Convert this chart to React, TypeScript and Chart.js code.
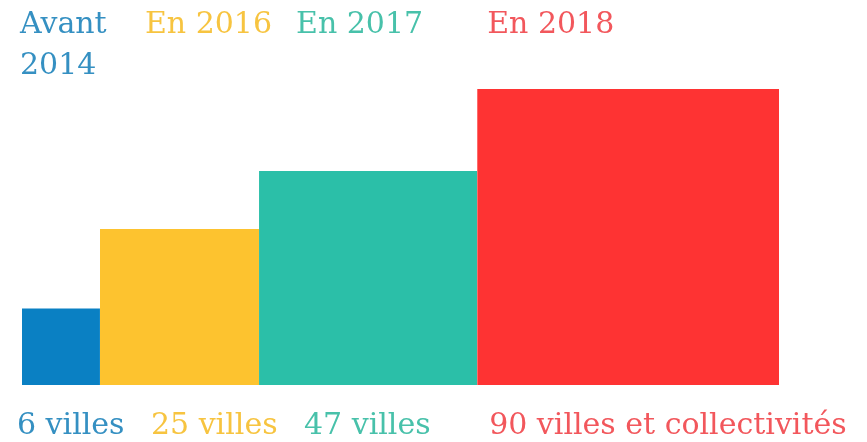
import React, { useEffect, useRef } from "react";
import { Chart, registerables } from "chart.js";

Chart.register(...registerables);

const categories: (string | string[])[] = [["Avant", "2014"], "En 2016", "En 2017", "En 2018"];
const cityCounts: number[] = [6, 25, 47, 90];
const countLabels: string[] = ["6 villes", "25 villes", "47 villes", "90 villes et collectivités"];
const barColors: string[] = ["#0a80c3", "#fdc32f", "#2bbfa8", "#fe3333"];
const textColors: string[] = ["#3590c2", "#f7c440", "#48c1aa", "#f2575c"];

// Each bar is a square whose area is proportional to the number of cities.
const sides = cityCounts.map((v) => Math.sqrt(v));
const starts: number[] = [];
sides.reduce((acc, s) => {
  starts.push(acc);
  return acc + s;
}, 0);
const totalWidth = sides.reduce((a, b) => a + b, 0);

const topOffsets = [-2, 45, 37, 10];
const bottomOffsets = [-5, 51, 45, 12];

export default function App() {
  const ref = useRef<HTMLCanvasElement | null>(null);

  useEffect(() => {
    if (!ref.current) return;
    const labelPlugin = {
      id: "squareLabels",
      afterDraw(chart: any) {
        const { ctx, scales } = chart;
        const xs = scales.x;
        ctx.save();
        ctx.font = '30px "DejaVu Serif"';
        ctx.textBaseline = "alphabetic";
        ctx.textAlign = "left";
        categories.forEach((cat, i) => {
          const left = xs.getPixelForValue(starts[i]);
          ctx.fillStyle = textColors[i];
          const lines = Array.isArray(cat) ? cat : [cat];
          lines.forEach((ln, j) => {
            ctx.fillText(ln, left + topOffsets[i], 33 + j * 41);
          });
          ctx.fillText(countLabels[i], left + bottomOffsets[i], 434);
        });
        ctx.restore();
      },
    };

    const chart = new Chart(ref.current, {
      type: "line",
      data: {
        datasets: cityCounts.map((_, i) => ({
          label: Array.isArray(categories[i]) ? (categories[i] as string[]).join(" ") : (categories[i] as string),
          data: [
            { x: starts[i], y: sides[i] },
            { x: starts[i] + sides[i], y: sides[i] },
          ],
          fill: "origin",
          backgroundColor: barColors[i],
          borderColor: barColors[i],
          borderWidth: 0,
          pointRadius: 0,
          tension: 0,
        })),
      },
      options: {
        responsive: false,
        animation: false,
        layout: { padding: { left: 22, right: 88, top: 89, bottom: 57 } },
        plugins: { legend: { display: false }, tooltip: { enabled: false } },
        scales: {
          x: { type: "linear", min: 0, max: totalWidth, display: false },
          y: { type: "linear", min: 0, max: Math.max(...sides), display: false },
        },
      },
      plugins: [labelPlugin],
    });
    return () => chart.destroy();
  }, []);

  return (
    <div style={{ position: "absolute", left: 0, top: 0, width: 867, height: 442, background: "#fff" }}>
      <canvas ref={ref} width={867} height={442} style={{ display: "block" }} />
    </div>
  );
}
